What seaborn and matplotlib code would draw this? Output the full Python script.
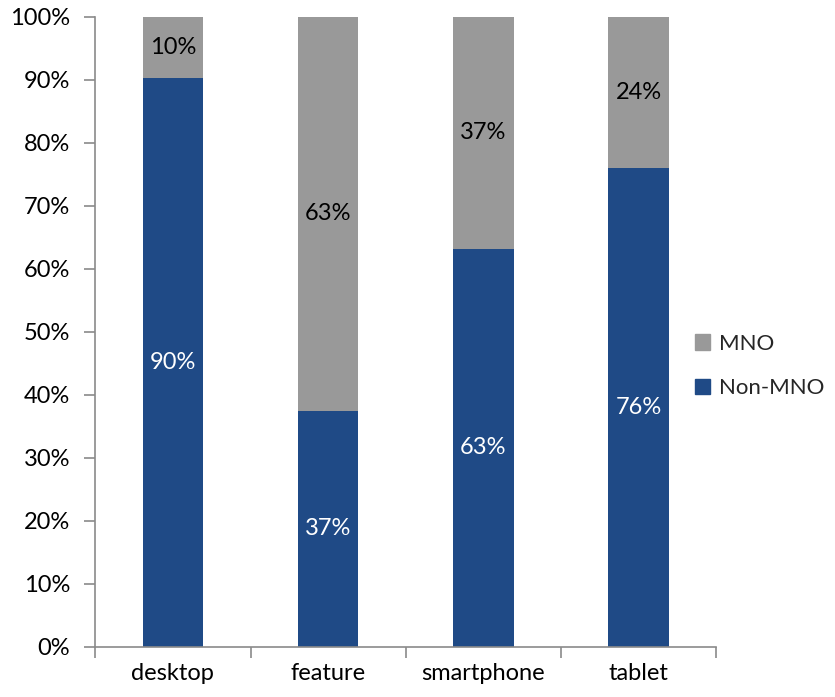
import matplotlib.pyplot as plt
import pandas as pd
import seaborn as sns
from matplotlib.patches import Patch
from matplotlib.ticker import FixedLocator

categories = ["desktop", "feature", "smartphone", "tablet"]
non_mno = [90.2, 37.4, 63.2, 76.0]
mno = [9.8, 62.6, 36.8, 24.0]

BLUE = "#1f4a86"
GRAY = "#999999"
AXIS = "#8a8a8a"


def main() -> None:
    data = pd.DataFrame({"category": categories, "non_mno": non_mno, "mno": mno})
    data["total"] = data["non_mno"] + data["mno"]

    sns.set_theme(style="white")
    plt.rcParams["font.family"] = ["Lato", "DejaVu Sans"]

    fig = plt.figure(figsize=(8.35, 6.97), dpi=100)
    ax = fig.add_axes([0.114, 0.072, 0.744, 0.904])

    sns.barplot(data=data, x="category", y="total", color=GRAY, width=0.39,
                saturation=1, linewidth=0, ax=ax)
    sns.barplot(data=data, x="category", y="non_mno", color=BLUE, width=0.39,
                saturation=1, linewidth=0, ax=ax)

    for i, row in data.iterrows():
        ax.text(i, row["non_mno"] / 2, f"{row['non_mno']:.0f}%", ha="center",
                va="center", color="white", fontsize=17)
        ax.text(i, row["non_mno"] + row["mno"] / 2, f"{row['mno']:.0f}%",
                ha="center", va="center", color="black", fontsize=17)

    ax.set_xlim(-0.5, len(categories) - 0.5)
    ax.set_ylim(0, 100)
    ax.set_yticks(range(0, 101, 10))
    ax.set_yticklabels([f"{v}%" for v in range(0, 101, 10)], fontsize=17)
    ax.set_xticklabels(categories, fontsize=17)
    ax.set_xlabel("")
    ax.set_ylabel("")

    # ticks between categories on the x axis, no ticks at the labels
    ax.xaxis.set_minor_locator(FixedLocator([i - 0.5 for i in range(len(categories) + 1)]))
    ax.tick_params(axis="x", which="major", length=0, pad=12, colors="black")
    ax.tick_params(axis="x", which="minor", bottom=True, length=8, width=1.2, color=AXIS)
    ax.tick_params(axis="y", left=True, length=8, width=1.2, color=AXIS, pad=10,
                   labelcolor="black")

    for side in ["top", "right"]:
        ax.spines[side].set_visible(False)
    for side in ["left", "bottom"]:
        ax.spines[side].set_color(AXIS)
        ax.spines[side].set_linewidth(1.2)

    handles = [Patch(color=GRAY, label="MNO"), Patch(color=BLUE, label="Non-MNO")]
    fig.legend(handles=handles, loc="center left", bbox_to_anchor=(0.832, 0.475),
               frameon=False, fontsize=16, handlelength=0.7, handleheight=0.7,
               handletextpad=0.4, labelspacing=1.1, borderpad=0, borderaxespad=0)

    fig.savefig("out.png", dpi=100)
    plt.close(fig)


if __name__ == "__main__":
    main()
